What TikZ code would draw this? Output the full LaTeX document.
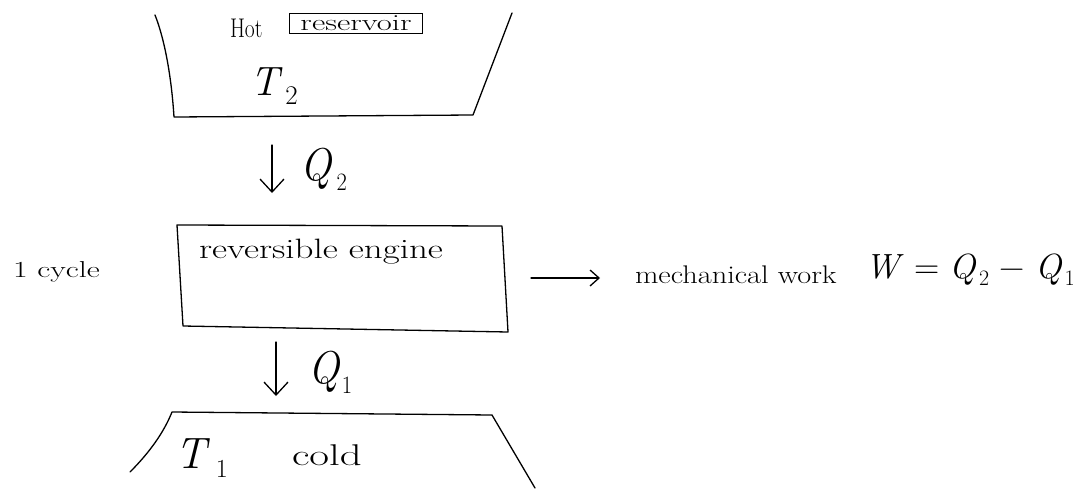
\documentclass[tikz,border=0pt]{standalone}
\usepackage{fontspec}
\usetikzlibrary{arrows.meta}
\newcommand{\fs}[1]{\fontsize{#1}{#1}\selectfont}
% italic letter with a lowered small index: {letter}{index}{index size}{gap}
\newcommand{\idx}[4]{\textit{#1}\hspace{#4}\raisebox{-0.22em}{\fs{#3}#2}}
\begin{document}
\begin{tikzpicture}[x=1pt,y=-1pt,
  hand/.style={line width=1.3pt,line cap=round,line join=round},
  flow/.style={hand,-{Straight Barb[length=13pt,width=24pt,line width=1.3pt]}},
  lbl/.style={inner sep=0pt,outer sep=0pt,anchor=base west}]
\useasboundingbox (0,0) rectangle (1076,490);
% hot reservoir
\coordinate (h1) at (155,15);
\coordinate (h2) at (174,117);
\coordinate (h3) at (473,115);
\coordinate (h4) at (512,13);
\draw[hand] (h1) .. controls (163,35) and (171,70) .. (h2) -- (h3) -- (h4);
\node[lbl,xscale=0.8] (hot) at (230,37) {\fs{27}Hot};
\node[draw,line width=0.9pt,inner sep=0pt,minimum width=94pt,minimum height=20pt,xscale=1.42] (res) at (356,23) {\fs{23}\rule{0pt}{10pt}reservoir};
\node[lbl] (t2) at (250,95) {\fs{41}\idx{T}{2}{27}{3pt}};
% Q2 arrow
\coordinate (q2a) at (272,145);
\coordinate (q2b) at (272,193);
\draw[flow] (q2a) -- (q2b);
\node[lbl,xscale=0.9] (q2) at (300,180) {\fs{46}\idx{Q}{2}{25}{5pt}};
% engine
\coordinate (e1) at (177,225);
\coordinate (e2) at (502,226);
\coordinate (e3) at (508,332);
\coordinate (e4) at (183,326);
\draw[hand] (e1) -- (e2) -- (e3) -- (e4) -- cycle;
\node[lbl,xscale=1.32] (eng) at (199,258) {\fs{28}reversible engine};
\node[lbl,xscale=1.39] (cyc) at (13,277) {\fs{23}1 cycle};
% Q1 arrow
\coordinate (q1a) at (276,342);
\coordinate (q1b) at (276,396);
\draw[flow] (q1a) -- (q1b);
\node[lbl,xscale=0.9] (q1) at (308,383) {\fs{46}\idx{Q}{1}{25}{2pt}};
% cold reservoir
\coordinate (c1) at (130,472);
\coordinate (c2) at (172,412);
\coordinate (c3) at (492,415);
\coordinate (c4) at (535,488);
\draw[hand] (c1) .. controls (150,452) and (164,432) .. (c2) -- (c3) -- (c4);
\node[lbl] (t1) at (175,468) {\fs{44}\idx{T}{1}{26}{6pt}};
\node[lbl,xscale=1.43] (cold) at (292,465) {\fs{30}cold};
% work
\coordinate (w1) at (531,278);
\coordinate (w2) at (600,278);
\draw[hand,-{Straight Barb[length=9pt,width=16pt,line width=1.3pt]}] (w1) -- (w2);
\node[lbl,xscale=1.19] (mw) at (635,283) {\fs{25.5}mechanical work};
\node[lbl] (eq) at (865,278) {\fs{35}\textit{W} = \idx{Q}{2}{22}{2pt} − \idx{Q}{1}{22}{2pt}};
\end{tikzpicture}
\end{document}
